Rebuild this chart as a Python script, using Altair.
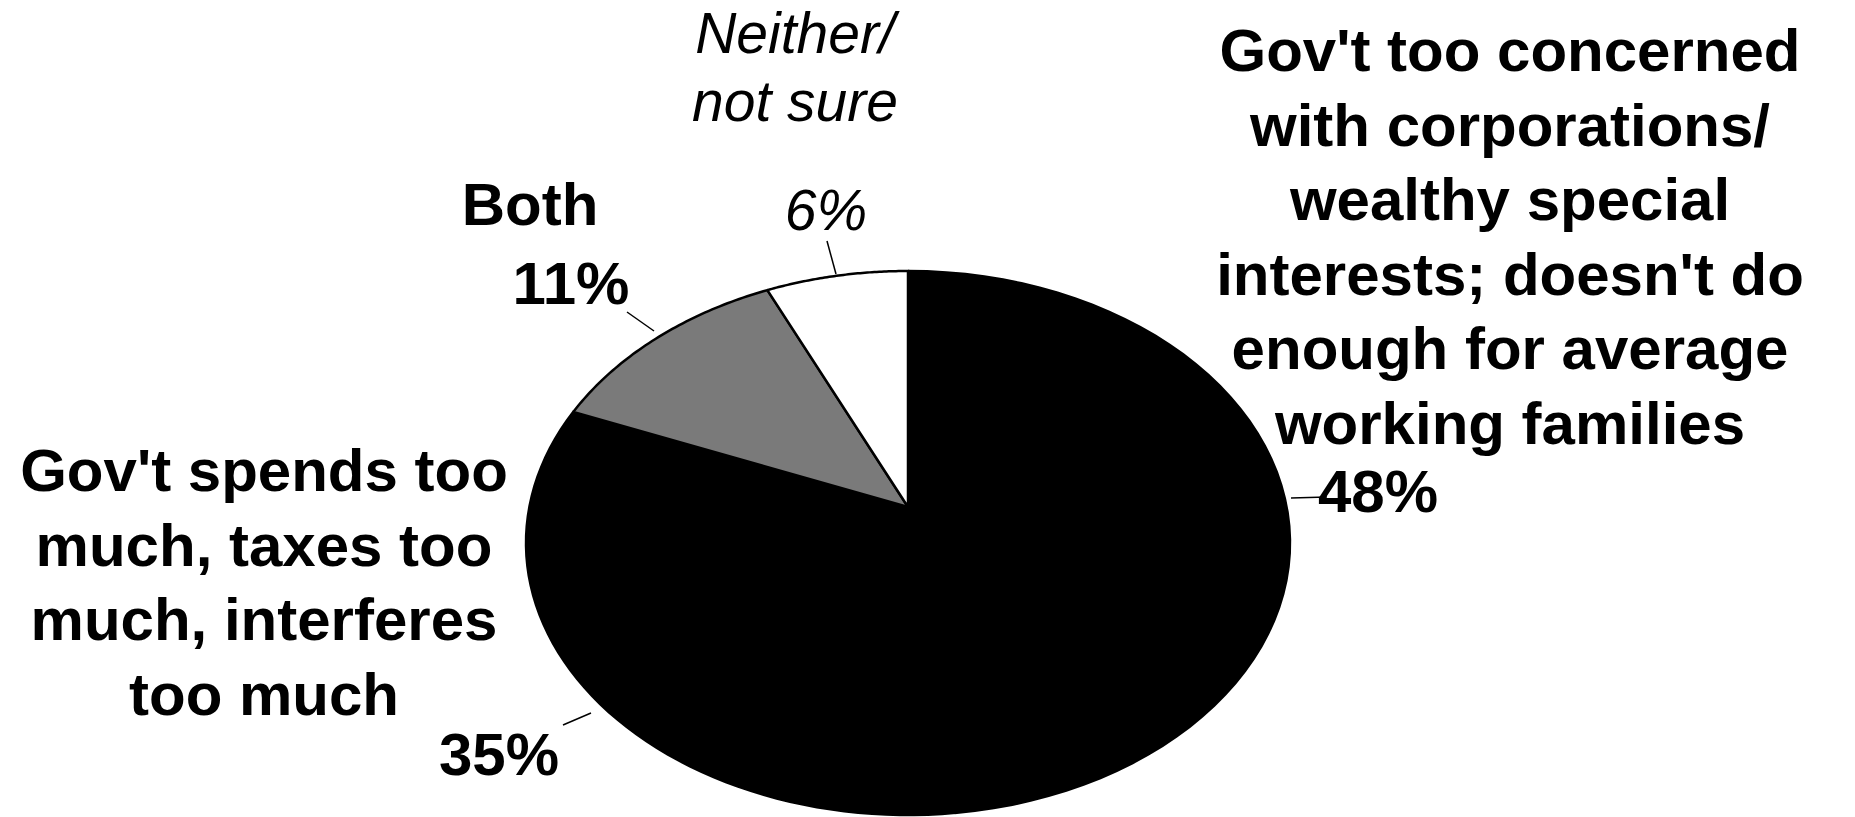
import altair as alt
import pandas as pd

# ---- data ----
slice_keys = ["Too concerned with corporations", "Spends too much", "Both", "Neither/not sure"]
slice_values = [48, 35, 11, 6]
slice_fills = ["#000000", "#000000", "#7a7a7a", "#ffffff"]

label_texts_bold = [
    "Gov't too concerned\nwith corporations/\nwealthy special\ninterests; doesn't do\nenough for average\nworking families",
    "48%",
    "Gov't spends too\nmuch, taxes too\nmuch, interferes\ntoo much",
    "35%",
    "Both",
    "11%",
]
label_texts_italic = ["Neither/\nnot sure", "6%"]

# ---- layout (pixels of the 1855x817 canvas) ----
W, H = 1855, 817
CX, CY = 908, 543      # ellipse centre
RX, RY = 382, 272      # ellipse radii
APEX = 36 / RY         # apex raised above the ellipse centre (perspective)

# positions of the first line of each label
bold_pos = [(1510, 53), (1378, 494), (264, 473), (499, 757), (530, 207), (571, 286)]
italic_pos = [(795, 36), (826, 213)]
leader_pos = [((827, 241), (836, 274)), ((627, 312), (654, 331)),
              ((563, 725), (591, 713)), ((1291, 498), (1327, 497))]


def dx(px):
    return (px - CX) / RX


def dy(py):
    return (CY - py) / RY


XD = [dx(0), dx(W)]
YD = [dy(H), dy(0)]
xs = alt.Scale(domain=XD, nice=False, zero=False)
ys = alt.Scale(domain=YD, nice=False, zero=False)

pie_df = pd.DataFrame({"cat": slice_keys, "value": slice_values, "ord": list(range(len(slice_keys)))})

pie = (
    alt.Chart(pie_df)
    .transform_joinaggregate(total="sum(value)")
    .transform_window(cum="sum(value)", sort=[alt.SortField("ord")])
    .transform_calculate(
        start="(datum.cum - datum.value) / datum.total",
        end="datum.cum / datum.total",
        pts="sequence(0, 63)",
    )
    .transform_flatten(["pts"])
    .transform_calculate(
        phi="2 * PI * (datum.start + (datum.end - datum.start) * (datum.pts <= 60 ? datum.pts : 0) / 60)"
    )
    .transform_calculate(
        px="datum.pts == 61 ? 0 : sin(datum.phi)",
        py=f"datum.pts == 61 ? {APEX} : cos(datum.phi)",
    )
    .mark_line(stroke="black", strokeWidth=2.5, strokeJoin="miter")
    .encode(
        x=alt.X("px:Q", scale=xs, axis=None),
        y=alt.Y("py:Q", scale=ys, axis=None),
        order=alt.Order("pts:Q"),
        detail="cat:N",
        fill=alt.Fill("cat:N", scale=alt.Scale(domain=slice_keys, range=slice_fills), legend=None),
    )
)

rule_df = pd.DataFrame({
    "x": [dx(a[0]) for a, b in leader_pos], "y": [dy(a[1]) for a, b in leader_pos],
    "x2": [dx(b[0]) for a, b in leader_pos], "y2": [dy(b[1]) for a, b in leader_pos],
})
rules = alt.Chart(rule_df).mark_rule(color="black", strokeWidth=1.5).encode(
    x=alt.X("x:Q", scale=xs, axis=None), y=alt.Y("y:Q", scale=ys, axis=None),
    x2="x2:Q", y2="y2:Q",
)

bold_df = pd.DataFrame({"t": label_texts_bold, "x": [dx(p[0]) for p in bold_pos], "y": [dy(p[1]) for p in bold_pos]})
bold = alt.Chart(bold_df).mark_text(
    font="Liberation Sans", fontWeight="bold", fontSize=60, lineBreak="\n", lineHeight=74.5,
    align="center", baseline="middle", color="black",
).encode(x=alt.X("x:Q", scale=xs, axis=None), y=alt.Y("y:Q", scale=ys, axis=None), text="t:N")

ital_df = pd.DataFrame({"t": label_texts_italic, "x": [dx(p[0]) for p in italic_pos], "y": [dy(p[1]) for p in italic_pos]})
ital = alt.Chart(ital_df).mark_text(
    font="Liberation Sans", fontStyle="italic", fontWeight="normal", fontSize=57, lineBreak="\n", lineHeight=68,
    align="center", baseline="middle", color="black",
).encode(x=alt.X("x:Q", scale=xs, axis=None), y=alt.Y("y:Q", scale=ys, axis=None), text="t:N")

chart = (
    alt.layer(pie, rules, bold, ital)
    .properties(width=W, height=H, padding=0, autosize=alt.AutoSizeParams(type="none"), background="white")
    .configure_view(stroke=None)
)

chart.save("out.html", embed_options={"renderer": "svg", "actions": False})
